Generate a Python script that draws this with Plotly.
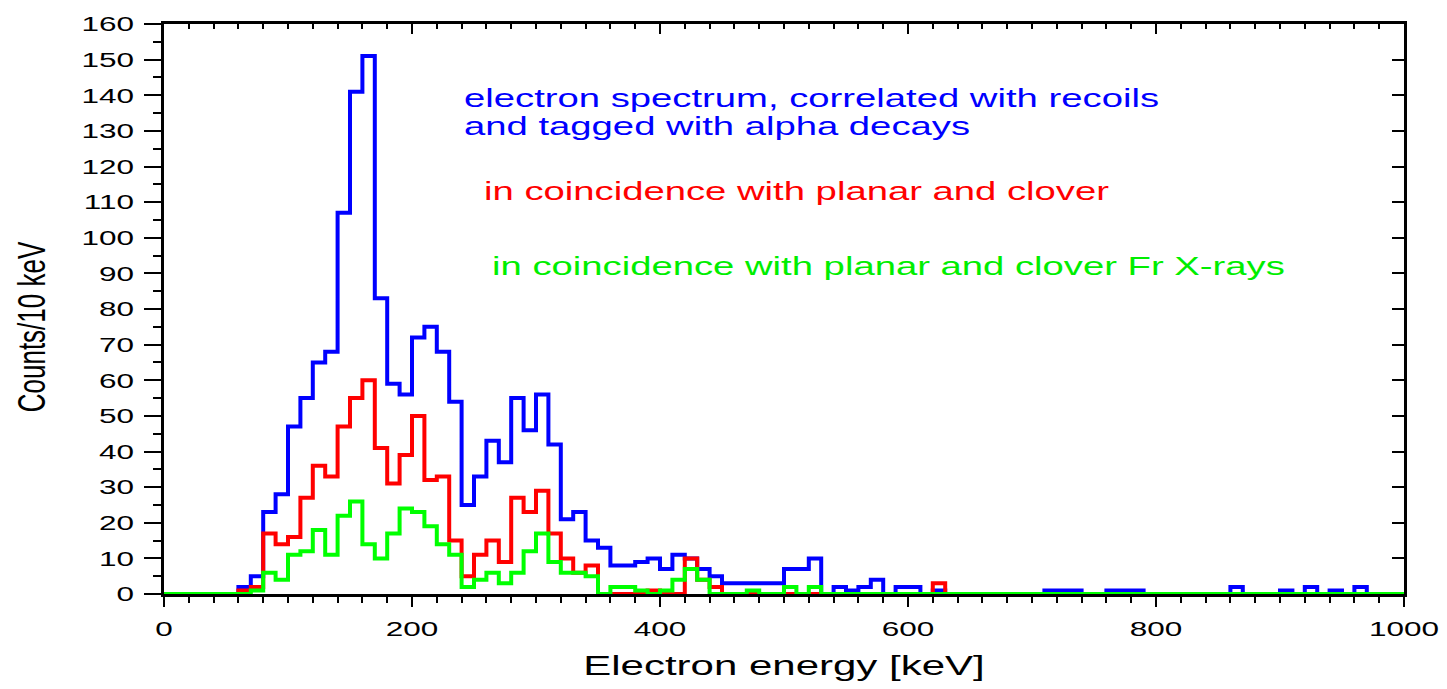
import plotly.graph_objects as go

# 10 keV bins from 0 to 1000 keV (left edges), counts per bin
bin_width = 10
bin_edges = list(range(0, 1000 + bin_width, bin_width))

# electron spectrum, correlated with recoils and tagged with alpha decays
blue_counts = [
    0, 0, 0, 0, 0, 0, 2, 5, 23, 28,
    47, 55, 65, 68, 107, 141, 151, 83, 59, 56,
    72, 75, 68, 54, 25, 33, 43, 37, 55, 46,
    56, 42, 21, 23, 15, 13, 8, 8, 9, 10,
    7, 11, 10, 7, 5, 3, 3, 3, 3, 3,
    7, 7, 10, 0, 2, 1, 2, 4, 0, 2,
    2, 0, 1, 0, 0, 0, 0, 0, 0, 0,
    0, 1, 1, 1, 0, 0, 1, 1, 1, 0,
    0, 0, 0, 0, 0, 0, 2, 0, 0, 0,
    1, 0, 2, 0, 1, 0, 2, 0, 0, 0,
]

# in coincidence with planar and clover
red_counts = [
    0, 0, 0, 0, 0, 0, 1, 2, 17, 14,
    16, 27, 36, 33, 47, 55, 60, 41, 31, 39,
    50, 32, 33, 15, 5, 11, 15, 9, 27, 23,
    29, 17, 10, 6, 8, 0, 0, 0, 0, 1,
    0, 0, 10, 4, 2, 0, 0, 0, 0, 0,
    0, 0, 0, 0, 0, 0, 0, 0, 0, 0,
    0, 0, 3, 0, 0, 0, 0, 0, 0, 0,
    0, 0, 0, 0, 0, 0, 0, 0, 0, 0,
    0, 0, 0, 0, 0, 0, 0, 0, 0, 0,
    0, 0, 0, 0, 0, 0, 0, 0, 0, 0,
]

# in coincidence with planar and clover Fr X-rays
green_counts = [
    0, 0, 0, 0, 0, 0, 0, 1, 6, 4,
    11, 12, 18, 11, 22, 26, 14, 10, 17, 24,
    23, 19, 14, 11, 2, 4, 6, 3, 6, 12,
    17, 9, 6, 6, 5, 0, 2, 2, 1, 0,
    1, 4, 7, 4, 0, 0, 0, 1, 0, 0,
    2, 0, 2, 0, 0, 0, 0, 0, 0, 0,
    0, 0, 0, 0, 0, 0, 0, 0, 0, 0,
    0, 0, 0, 0, 0, 0, 0, 0, 0, 0,
    0, 0, 0, 0, 0, 0, 0, 0, 0, 0,
    0, 0, 0, 0, 0, 0, 0, 0, 0, 0,
]

series = [
    ("electron spectrum, correlated with recoils and tagged with alpha decays", blue_counts, "#0000ff"),
    ("in coincidence with planar and clover", red_counts, "#ff0000"),
    ("in coincidence with planar and clover Fr X-rays", green_counts, "#00ff00"),
]

FONT = "Liberation Sans, Arial, sans-serif"

fig = go.Figure()
for name, counts, color in series:
    # step outline: value held across each 10 keV bin
    fig.add_trace(go.Scatter(
        x=bin_edges,
        y=counts + [counts[-1]],
        mode="lines",
        name=name,
        line=dict(shape="hv", color=color, width=4),
        cliponaxis=False,
        showlegend=False,
        hoverinfo="skip",
    ))

# empty traces so the top and right frame axes get drawn
fig.add_trace(go.Scatter(x=[], y=[], xaxis="x2", yaxis="y", showlegend=False, hoverinfo="skip"))
fig.add_trace(go.Scatter(x=[], y=[], xaxis="x", yaxis="y2", showlegend=False, hoverinfo="skip"))

axis_common = dict(showgrid=False, zeroline=False, showline=True,
                   linecolor="black", linewidth=2.5, tickcolor="black",
                   tickwidth=2, layer="below traces")

fig.update_layout(
    width=1447, height=689,
    margin=dict(l=164, r=43, t=21, b=84),
    paper_bgcolor="white", plot_bgcolor="white",
    font=dict(family=FONT, color="black"),
    xaxis=dict(
        range=[0, 1000], tick0=0, dtick=200, ticks="outside", ticklen=10,
        minor=dict(dtick=20, ticks="outside", ticklen=6, tickwidth=2, tickcolor="black"),
        tickfont=dict(family=FONT, size=21, color="black"),
        ticklabelstandoff=4,
        title=dict(text="Electron energy [keV]", font=dict(family=FONT, size=28, color="black"), standoff=17),
        **axis_common,
    ),
    yaxis=dict(
        range=[0, 160], tick0=0, dtick=10, ticks="outside", ticklen=17,
        minor=dict(dtick=5, ticks="outside", ticklen=8, tickwidth=2, tickcolor="black"),
        tickfont=dict(family=FONT, size=21, color="black"),
        ticklabelstandoff=6,
        title=dict(text="Counts/10 keV", font=dict(family=FONT, size=26, color="black"), standoff=51),
        **axis_common,
    ),
    xaxis2=dict(
        overlaying="x", side="top", anchor="y", range=[0, 1000], tick0=0, dtick=200,
        ticks="inside", ticklen=10, showticklabels=False,
        minor=dict(dtick=20, ticks="inside", ticklen=5, tickwidth=2, tickcolor="black"),
        **axis_common,
    ),
    yaxis2=dict(
        overlaying="y", side="right", anchor="x", range=[0, 160], tick0=0, dtick=10,
        ticks="inside", ticklen=12, showticklabels=False,
        **axis_common,
    ),
)

labels = [
    ("electron spectrum, correlated with recoils", 0.2403, 0.8699, "#0000ff"),
    ("and tagged with alpha decays", 0.2403, 0.8219, "#0000ff"),
    ("in coincidence with planar and clover", 0.2565, 0.7072, "#ff0000"),
    ("in coincidence with planar and clover Fr X-rays", 0.2629, 0.5753, "#00ee00"),
]
for text, x, y, color in labels:
    fig.add_annotation(text=text, x=x, y=y, xref="paper", yref="paper",
                       xanchor="left", yanchor="middle", align="left",
                       showarrow=False,
                       font=dict(family=FONT, size=25.5, color=color))

# Wide lettering: stretch each label horizontally about its anchor point;
# the vertical axis title sits a little below the plot centre.
widen_text = """
var gd = document.getElementById('{plot_id}');
var S = 1.5;
var YTITLE_SHIFT = 18;
var svg = gd.querySelector('svg.main-svg');
var nodes = gd.querySelectorAll('.xtick text, .ytick text, text.xtitle, text.ytitle, text.annotation-text');
nodes.forEach(function(t){
  if (!t.textContent || !t.textContent.trim()) return;
  var r = t.getBoundingClientRect();
  var a = t.getAttribute('text-anchor') || 'start';
  var ax = a === 'end' ? r.right : (a === 'middle' ? (r.left + r.right) / 2 : r.left);
  var m = t.parentNode.getScreenCTM().inverse();
  var p = svg.createSVGPoint(); p.x = ax; p.y = r.top;
  var q = p.matrixTransform(m);
  var tr = t.getAttribute('transform') || '';
  var pre = t.classList.contains('ytitle') ? 'translate(0,' + YTITLE_SHIFT + ') ' : '';
  t.setAttribute('transform', pre + 'translate(' + q.x + ',0) scale(' + S + ',1) translate(' + (-q.x) + ',0) ' + tr);
});
"""

fig.write_html("out.html", config={"displayModeBar": False, "responsive": False},
               post_script=widen_text)
